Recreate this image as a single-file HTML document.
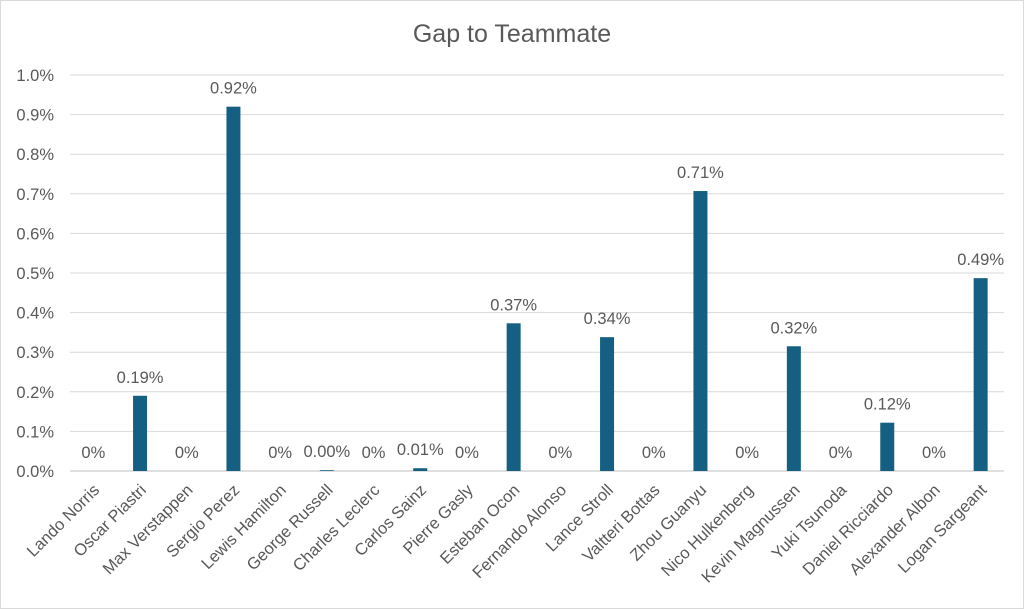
<!DOCTYPE html>
<html><head><style>body{margin:0;background:#fff}svg{display:block}text{font-family:"Liberation Sans",sans-serif;fill:#595959;font-size:16.5px}</style></head>
<body>
<svg width="1024" height="609" xmlns="http://www.w3.org/2000/svg">
<rect x="0.5" y="0.5" width="1023" height="608" fill="#fff" stroke="#d9d9d9"/>
<text x="512" y="42" style="font-size:25px" text-anchor="middle">Gap to Teammate</text>
<g stroke="#d9d9d9" stroke-width="1">
<line x1="70" x2="1004" y1="431.4" y2="431.4"/><line x1="70" x2="1004" y1="391.8" y2="391.8"/><line x1="70" x2="1004" y1="352.2" y2="352.2"/><line x1="70" x2="1004" y1="312.6" y2="312.6"/><line x1="70" x2="1004" y1="273" y2="273"/><line x1="70" x2="1004" y1="233.4" y2="233.4"/><line x1="70" x2="1004" y1="193.8" y2="193.8"/><line x1="70" x2="1004" y1="154.2" y2="154.2"/><line x1="70" x2="1004" y1="114.6" y2="114.6"/><line x1="70" x2="1004" y1="75" y2="75"/>
</g>
<line x1="70" x2="1004" y1="471" y2="471" stroke="#bfbfbf"/>
<g text-anchor="end">
<text x="54" y="477">0.0%</text><text x="54" y="437.4">0.1%</text><text x="54" y="397.8">0.2%</text><text x="54" y="358.2">0.3%</text><text x="54" y="318.6">0.4%</text><text x="54" y="279">0.5%</text><text x="54" y="239.4">0.6%</text><text x="54" y="199.8">0.7%</text><text x="54" y="160.2">0.8%</text><text x="54" y="120.6">0.9%</text><text x="54" y="81">1.0%</text>
</g>
<g fill="#156082">
<rect x="133.05" y="395.76" width="14" height="75.24"/>
<rect x="226.45" y="106.68" width="14" height="364.32"/>
<rect x="319.85" y="470.2" width="14" height="0.8"/>
<rect x="413.25" y="468.2" width="14" height="2.8"/>
<rect x="506.65" y="323.3" width="14" height="147.7"/>
<rect x="600.05" y="337.15" width="14" height="133.85"/>
<rect x="693.45" y="191.03" width="14" height="279.97"/>
<rect x="786.85" y="346.26" width="14" height="124.74"/>
<rect x="880.25" y="422.69" width="14" height="48.31"/>
<rect x="973.65" y="278.15" width="14" height="192.85"/>
</g>
<g text-anchor="middle">
<text x="93.35" y="458">0%</text>
<text x="140.05" y="382.8">0.19%</text>
<text x="186.75" y="458">0%</text>
<text x="233.45" y="93.7">0.92%</text>
<text x="280.15" y="458">0%</text>
<text x="326.85" y="457.2">0.00%</text>
<text x="373.55" y="458">0%</text>
<text x="420.25" y="455.2">0.01%</text>
<text x="466.95" y="458">0%</text>
<text x="513.65" y="310.3">0.37%</text>
<text x="560.35" y="458">0%</text>
<text x="607.05" y="324.2">0.34%</text>
<text x="653.75" y="458">0%</text>
<text x="700.45" y="178">0.71%</text>
<text x="747.15" y="458">0%</text>
<text x="793.85" y="333.3">0.32%</text>
<text x="840.55" y="458">0%</text>
<text x="887.25" y="409.7">0.12%</text>
<text x="933.95" y="458">0%</text>
<text x="980.65" y="265.2">0.49%</text>
</g>
<g text-anchor="end">
<text transform="translate(100.35,491) rotate(-45)">Lando Norris</text>
<text transform="translate(147.05,491) rotate(-45)">Oscar Piastri</text>
<text transform="translate(193.75,491) rotate(-45)">Max Verstappen</text>
<text transform="translate(240.45,491) rotate(-45)">Sergio Perez</text>
<text transform="translate(287.15,491) rotate(-45)">Lewis Hamilton</text>
<text transform="translate(333.85,491) rotate(-45)">George Russell</text>
<text transform="translate(380.55,491) rotate(-45)">Charles Leclerc</text>
<text transform="translate(427.25,491) rotate(-45)">Carlos Sainz</text>
<text transform="translate(473.95,491) rotate(-45)">Pierre Gasly</text>
<text transform="translate(520.65,491) rotate(-45)">Esteban Ocon</text>
<text transform="translate(567.35,491) rotate(-45)">Fernando Alonso</text>
<text transform="translate(614.05,491) rotate(-45)">Lance Stroll</text>
<text transform="translate(660.75,491) rotate(-45)">Valtteri Bottas</text>
<text transform="translate(707.45,491) rotate(-45)">Zhou Guanyu</text>
<text transform="translate(754.15,491) rotate(-45)">Nico Hulkenberg</text>
<text transform="translate(800.85,491) rotate(-45)">Kevin Magnussen</text>
<text transform="translate(847.55,491) rotate(-45)">Yuki Tsunoda</text>
<text transform="translate(894.25,491) rotate(-45)">Daniel Ricciardo</text>
<text transform="translate(940.95,491) rotate(-45)">Alexander Albon</text>
<text transform="translate(987.65,491) rotate(-45)">Logan Sargeant</text>
</g>
</svg>
</body></html>
